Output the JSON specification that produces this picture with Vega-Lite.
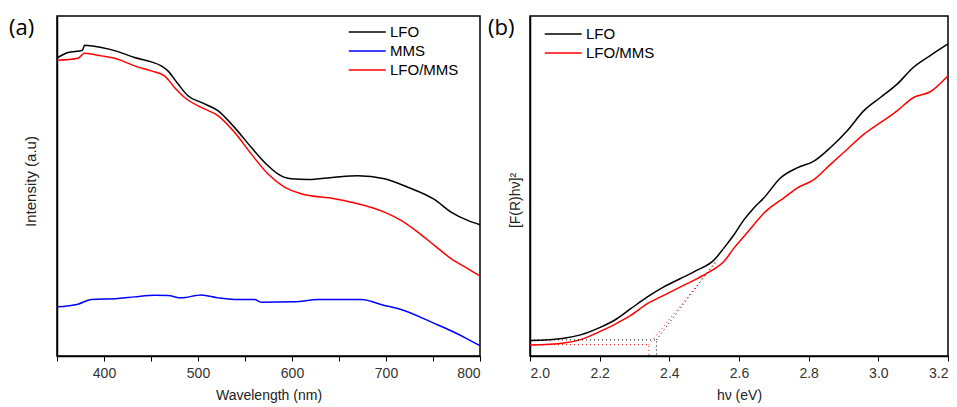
{
  "$schema": "https://vega.github.io/schema/vega-lite/v6.json",
  "padding": {"left": 8, "top": 15, "right": 0, "bottom": 0},
  "background": "white",
  "datasets": {
    "uv": [
      {"wl": 350, "val": 298.7, "series": "LFO"},
      {"wl": 361.7, "val": 304.3, "series": "LFO"},
      {"wl": 377, "val": 306.5, "series": "LFO"},
      {"wl": 379.3, "val": 311.7, "series": "LFO"},
      {"wl": 397.1, "val": 309.3, "series": "LFO"},
      {"wl": 414.8, "val": 305.3, "series": "LFO"},
      {"wl": 432.5, "val": 299.3, "series": "LFO"},
      {"wl": 450.2, "val": 295, "series": "LFO"},
      {"wl": 460.9, "val": 291, "series": "LFO"},
      {"wl": 468, "val": 286, "series": "LFO"},
      {"wl": 478.6, "val": 273, "series": "LFO"},
      {"wl": 489.3, "val": 261, "series": "LFO"},
      {"wl": 503.4, "val": 254.3, "series": "LFO"},
      {"wl": 521.2, "val": 246, "series": "LFO"},
      {"wl": 538.8, "val": 229.3, "series": "LFO"},
      {"wl": 556.6, "val": 209.3, "series": "LFO"},
      {"wl": 574.3, "val": 191, "series": "LFO"},
      {"wl": 584.9, "val": 182.7, "series": "LFO"},
      {"wl": 599.1, "val": 177.7, "series": "LFO"},
      {"wl": 616.8, "val": 177, "series": "LFO"},
      {"wl": 645.1, "val": 179.3, "series": "LFO"},
      {"wl": 670, "val": 180.7, "series": "LFO"},
      {"wl": 698.3, "val": 177.7, "series": "LFO"},
      {"wl": 723.1, "val": 169.3, "series": "LFO"},
      {"wl": 751.4, "val": 157, "series": "LFO"},
      {"wl": 769.2, "val": 144.3, "series": "LFO"},
      {"wl": 786.9, "val": 136, "series": "LFO"},
      {"wl": 800, "val": 131.7, "series": "LFO"},
      {"wl": 350, "val": 49.3, "series": "MMS"},
      {"wl": 372.3, "val": 52, "series": "MMS"},
      {"wl": 386.5, "val": 56.7, "series": "MMS"},
      {"wl": 414.8, "val": 57.7, "series": "MMS"},
      {"wl": 432.5, "val": 59.3, "series": "MMS"},
      {"wl": 453.8, "val": 61, "series": "MMS"},
      {"wl": 468, "val": 60.7, "series": "MMS"},
      {"wl": 482.1, "val": 58.3, "series": "MMS"},
      {"wl": 503.4, "val": 61.3, "series": "MMS"},
      {"wl": 521.2, "val": 58.3, "series": "MMS"},
      {"wl": 538.8, "val": 56.7, "series": "MMS"},
      {"wl": 560.1, "val": 56.7, "series": "MMS"},
      {"wl": 567.2, "val": 54, "series": "MMS"},
      {"wl": 602.6, "val": 54.3, "series": "MMS"},
      {"wl": 627.5, "val": 56.7, "series": "MMS"},
      {"wl": 673.5, "val": 56.7, "series": "MMS"},
      {"wl": 698.3, "val": 50.7, "series": "MMS"},
      {"wl": 716, "val": 46.7, "series": "MMS"},
      {"wl": 751.4, "val": 32.7, "series": "MMS"},
      {"wl": 769.2, "val": 25.3, "series": "MMS"},
      {"wl": 786.9, "val": 17, "series": "MMS"},
      {"wl": 800, "val": 10.3, "series": "MMS"},
      {"wl": 350, "val": 296.7, "series": "LFO/MMS"},
      {"wl": 372.3, "val": 298.7, "series": "LFO/MMS"},
      {"wl": 379.3, "val": 303.7, "series": "LFO/MMS"},
      {"wl": 397.1, "val": 301, "series": "LFO/MMS"},
      {"wl": 414.8, "val": 297.7, "series": "LFO/MMS"},
      {"wl": 432.5, "val": 291, "series": "LFO/MMS"},
      {"wl": 450.2, "val": 286, "series": "LFO/MMS"},
      {"wl": 464.4, "val": 281, "series": "LFO/MMS"},
      {"wl": 475, "val": 269.3, "series": "LFO/MMS"},
      {"wl": 485.7, "val": 259.3, "series": "LFO/MMS"},
      {"wl": 503.4, "val": 249.3, "series": "LFO/MMS"},
      {"wl": 521.2, "val": 241, "series": "LFO/MMS"},
      {"wl": 538.8, "val": 224.3, "series": "LFO/MMS"},
      {"wl": 556.6, "val": 202.7, "series": "LFO/MMS"},
      {"wl": 574.3, "val": 182.7, "series": "LFO/MMS"},
      {"wl": 592, "val": 169.3, "series": "LFO/MMS"},
      {"wl": 609.7, "val": 162.7, "series": "LFO/MMS"},
      {"wl": 645.1, "val": 157.7, "series": "LFO/MMS"},
      {"wl": 662.9, "val": 154.3, "series": "LFO/MMS"},
      {"wl": 698.3, "val": 144.3, "series": "LFO/MMS"},
      {"wl": 716, "val": 136, "series": "LFO/MMS"},
      {"wl": 733.8, "val": 124.3, "series": "LFO/MMS"},
      {"wl": 751.4, "val": 111, "series": "LFO/MMS"},
      {"wl": 769.2, "val": 97.7, "series": "LFO/MMS"},
      {"wl": 786.9, "val": 87.7, "series": "LFO/MMS"},
      {"wl": 800, "val": 80.3, "series": "LFO/MMS"}
    ],
    "tauc": [
      {"ev": 2.0, "val": 15.3, "series": "LFO"},
      {"ev": 2.0975, "val": 17.7, "series": "LFO"},
      {"ev": 2.145, "val": 21, "series": "LFO"},
      {"ev": 2.203, "val": 28.7, "series": "LFO"},
      {"ev": 2.241, "val": 35.3, "series": "LFO"},
      {"ev": 2.289, "val": 47, "series": "LFO"},
      {"ev": 2.337, "val": 58.7, "series": "LFO"},
      {"ev": 2.384, "val": 68.7, "series": "LFO"},
      {"ev": 2.432, "val": 77, "series": "LFO"},
      {"ev": 2.48, "val": 85.3, "series": "LFO"},
      {"ev": 2.528, "val": 95.3, "series": "LFO"},
      {"ev": 2.556, "val": 107, "series": "LFO"},
      {"ev": 2.585, "val": 120.3, "series": "LFO"},
      {"ev": 2.614, "val": 135.3, "series": "LFO"},
      {"ev": 2.642, "val": 147, "series": "LFO"},
      {"ev": 2.671, "val": 157, "series": "LFO"},
      {"ev": 2.719, "val": 177, "series": "LFO"},
      {"ev": 2.767, "val": 187, "series": "LFO"},
      {"ev": 2.815, "val": 193.7, "series": "LFO"},
      {"ev": 2.862, "val": 207, "series": "LFO"},
      {"ev": 2.91, "val": 223.7, "series": "LFO"},
      {"ev": 2.958, "val": 243.7, "series": "LFO"},
      {"ev": 3.006, "val": 257, "series": "LFO"},
      {"ev": 3.054, "val": 270.3, "series": "LFO"},
      {"ev": 3.101, "val": 287, "series": "LFO"},
      {"ev": 3.149, "val": 298.7, "series": "LFO"},
      {"ev": 3.2, "val": 310.3, "series": "LFO"},
      {"ev": 2.0, "val": 11, "series": "LFO/MMS"},
      {"ev": 2.0975, "val": 13, "series": "LFO/MMS"},
      {"ev": 2.145, "val": 16.3, "series": "LFO/MMS"},
      {"ev": 2.203, "val": 24.7, "series": "LFO/MMS"},
      {"ev": 2.241, "val": 31, "series": "LFO/MMS"},
      {"ev": 2.289, "val": 40.3, "series": "LFO/MMS"},
      {"ev": 2.337, "val": 52, "series": "LFO/MMS"},
      {"ev": 2.384, "val": 60.3, "series": "LFO/MMS"},
      {"ev": 2.432, "val": 68.7, "series": "LFO/MMS"},
      {"ev": 2.48, "val": 77, "series": "LFO/MMS"},
      {"ev": 2.528, "val": 86.3, "series": "LFO/MMS"},
      {"ev": 2.556, "val": 93.7, "series": "LFO/MMS"},
      {"ev": 2.585, "val": 107, "series": "LFO/MMS"},
      {"ev": 2.614, "val": 118.7, "series": "LFO/MMS"},
      {"ev": 2.642, "val": 130.3, "series": "LFO/MMS"},
      {"ev": 2.671, "val": 142, "series": "LFO/MMS"},
      {"ev": 2.7, "val": 150.3, "series": "LFO/MMS"},
      {"ev": 2.728, "val": 157, "series": "LFO/MMS"},
      {"ev": 2.767, "val": 167, "series": "LFO/MMS"},
      {"ev": 2.815, "val": 175.3, "series": "LFO/MMS"},
      {"ev": 2.862, "val": 190.3, "series": "LFO/MMS"},
      {"ev": 2.91, "val": 205.3, "series": "LFO/MMS"},
      {"ev": 2.958, "val": 220.3, "series": "LFO/MMS"},
      {"ev": 3.006, "val": 232, "series": "LFO/MMS"},
      {"ev": 3.054, "val": 243.7, "series": "LFO/MMS"},
      {"ev": 3.101, "val": 257, "series": "LFO/MMS"},
      {"ev": 3.149, "val": 262.7, "series": "LFO/MMS"},
      {"ev": 3.2, "val": 278.7, "series": "LFO/MMS"}
    ],
    "fits": [
      {"seg": "LFO-h", "series": "LFO", "o": 1, "ev": 2.0, "val": 16},
      {"seg": "LFO-h", "series": "LFO", "o": 2, "ev": 2.363, "val": 16},
      {"seg": "LFO-h", "series": "LFO", "o": 3, "ev": 2.363, "val": 0},
      {"seg": "LFO-t", "series": "LFO", "o": 1, "ev": 2.363, "val": 16},
      {"seg": "LFO-t", "series": "LFO", "o": 2, "ev": 2.533, "val": 94},
      {"seg": "MMS-h", "series": "LFO/MMS", "o": 1, "ev": 2.0, "val": 11.3},
      {"seg": "MMS-h", "series": "LFO/MMS", "o": 2, "ev": 2.341, "val": 11.3},
      {"seg": "MMS-h", "series": "LFO/MMS", "o": 3, "ev": 2.341, "val": 0},
      {"seg": "MMS-t", "series": "LFO/MMS", "o": 1, "ev": 2.341, "val": 11.3},
      {"seg": "MMS-t", "series": "LFO/MMS", "o": 2, "ev": 2.538, "val": 95}
    ]
  },
  "bounds": "flush",
  "spacing": 50,
  "resolve": {"scale": {"color": "independent", "x": "independent", "y": "independent"}, "legend": {"color": "independent"}},
  "hconcat": [
    {
      "width": 423,
      "height": 340,
      "layer": [
        {
          "data": {"name": "uv"},
          "mark": {"type": "line", "strokeWidth": 1.5, "interpolate": "monotone"},
          "encoding": {
            "x": {"field": "wl", "type": "quantitative", "scale": {"domain": [350, 800], "nice": false, "zero": false},
              "axis": {"title": "Wavelength (nm)", "values": [350, 400, 450, 500, 550, 600, 650, 700, 750, 800],
                "labelExpr": "datum.value % 100 == 0 ? datum.label : ''", "grid": false}},
            "y": {"field": "val", "type": "quantitative", "scale": {"domain": [0, 341], "nice": false},
              "axis": {"title": "Intensity (a.u)", "ticks": false, "labels": false, "grid": false, "titlePadding": 19, "titleY": 165, "titleFontSize": 15}},
            "color": {"field": "series", "type": "nominal", "sort": ["LFO", "MMS", "LFO/MMS"],
              "scale": {"domain": ["LFO", "MMS", "LFO/MMS"], "range": ["#000000", "#0000ff", "#ff0000"]},
              "legend": {"title": null, "orient": "none", "legendX": 291, "legendY": 6, "padding": 0}}
          }
        },
        {
          "data": {"values": [{"label": "(a)"}]},
          "mark": {"type": "text", "align": "left", "baseline": "alphabetic", "fontSize": 22, "font": "Open Sans", "color": "black"},
          "encoding": {
            "x": {"datum": 299},
            "y": {"datum": 322},
            "text": {"field": "label"}
          }
        }
      ]
    },
    {
      "width": 418,
      "height": 340,
      "layer": [
        {
          "data": {"name": "tauc"},
          "mark": {"type": "line", "strokeWidth": 1.5, "interpolate": "monotone"},
          "encoding": {
            "x": {"field": "ev", "type": "quantitative", "scale": {"domain": [2.0, 3.2], "nice": false, "zero": false},
              "axis": {"title": "hν (eV)", "values": [2.0, 2.1, 2.2, 2.3, 2.4, 2.5, 2.6, 2.7, 2.8, 2.9, 3.0, 3.1, 3.2],
                "labelExpr": "round(datum.value * 10) % 2 == 0 ? format(datum.value, '.1f') : ''", "grid": false}},
            "y": {"field": "val", "type": "quantitative", "scale": {"domain": [0, 338], "nice": false},
              "axis": {"title": "[F(R)hν]²", "ticks": false, "labels": false, "grid": false, "titlePadding": 8, "titleY": 184}},
            "color": {"field": "series", "type": "nominal", "sort": ["LFO", "LFO/MMS"],
              "scale": {"domain": ["LFO", "LFO/MMS"], "range": ["#000000", "#ff0000"]},
              "legend": {"title": null, "orient": "none", "legendX": 14, "legendY": 8, "padding": 0}}
          }
        },
        {
          "data": {"name": "fits"},
          "mark": {"type": "line", "strokeWidth": 1, "strokeDash": [1, 3]},
          "encoding": {
            "x": {"field": "ev", "type": "quantitative"},
            "y": {"field": "val", "type": "quantitative"},
            "detail": {"field": "seg", "type": "nominal"},
            "order": {"field": "o", "type": "quantitative"},
            "color": {"field": "series", "type": "nominal", "legend": null}
          }
        },
        {
          "data": {"values": [{"label": "(b)"}]},
          "mark": {"type": "text", "align": "left", "baseline": "alphabetic", "fontSize": 22, "font": "Open Sans", "color": "black"},
          "encoding": {
            "x": {"datum": 1.8794},
            "y": {"datum": 319},
            "text": {"field": "label"}
          }
        }
      ]
    }
  ],
  "config": {
    "view": {"stroke": "black", "strokeWidth": 1.5},
    "font": "Liberation Sans",
    "axis": {
      "domainColor": "black", "domainWidth": 1.5, "tickColor": "black", "tickSize": 5, "tickWidth": 1,
      "labelFont": "Liberation Sans", "labelFontSize": 14, "labelColor": "#333333", "labelPadding": 5,
      "titleFont": "Liberation Sans", "titleFontSize": 14, "titleFontWeight": "normal", "titleColor": "#222222"
    },
    "axisX": {"titlePadding": 8},
    "legend": {
      "symbolType": "M-1,0H3", "symbolSize": 342, "symbolStrokeWidth": 1.5,
      "labelFont": "Liberation Sans", "labelFontSize": 15, "labelColor": "#000000", "labelOffset": 22,
      "rowPadding": 1
    }
  }
}
